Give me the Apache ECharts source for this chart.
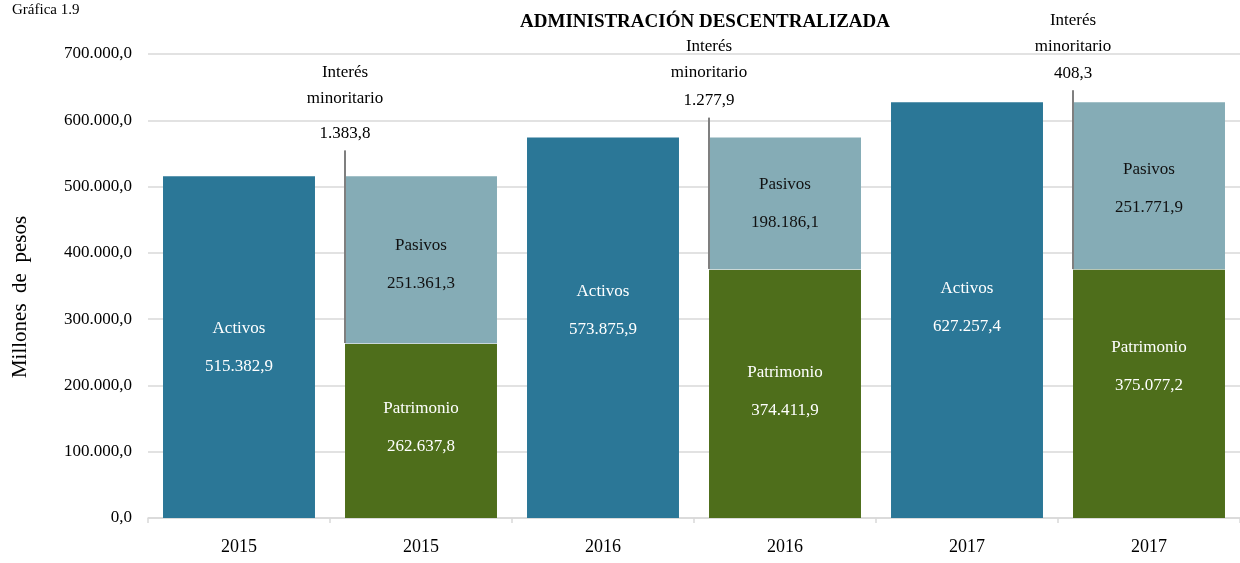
<!DOCTYPE html>
<html>
<head>
<meta charset="utf-8">
<script src="https://cdn.jsdelivr.net/npm/echarts@6/dist/echarts.min.js"></script>
<style>
html,body{margin:0;padding:0;background:#fff;}
#chart{width:1240px;height:563px;}
</style>
</head>
<body>
<div id="chart"></div>
<script>
const categories = ['2015', '2015', '2016', '2016', '2017', '2017'];
const activos    = [515382.9, null, 573875.9, null, 627257.4, null];
const patrimonio = [null, 262637.8, null, 374411.9, null, 375077.2];
const interes    = [null, 1383.8, null, 1277.9, null, 408.3];
const pasivos    = [null, 251361.3, null, 198186.1, null, 251771.9];
const yMin = 0, yMax = 700000, yStep = 100000;

// styling (pixel offsets for callouts / labels)
const calloutGap = { 1: 26, 3: 20, 5: 12 };
const minorGap = { 1: 35, 3: 28, 5: 27 };
const activosShift = { 0: 0, 2: -17, 4: -3 };
const patrimonioShift = { 1: -3, 3: -2, 5: -27 };
const pasivosShift = { 1: 5, 3: 0, 5: 3 };

const FONT = "'Liberation Serif', 'Times New Roman', serif";
const BARW = 0.835;

function fmt(v) {
  const s = v.toFixed(1);
  const [ip, dp] = s.split('.');
  return ip.replace(/\B(?=(\d{3})+(?!\d))/g, '.') + ',' + dp;
}

function barData(arr, shift) {
  return arr.map((v, i) => v == null ? '-' : {
    value: v,
    label: { offset: [0, (shift && shift[i]) || 0] }
  });
}

const calloutData = [];
categories.forEach((c, i) => {
  if (interes[i] != null) {
    const low = patrimonio[i] + interes[i];
    calloutData.push([i, low, low + pasivos[i], interes[i]]);
  }
});

const chart = echarts.init(document.getElementById('chart'), null, { renderer: 'canvas' });

const labelBase = {
  show: true,
  position: 'inside',
  fontFamily: FONT,
  fontSize: 17,
  lineHeight: 38
};

chart.setOption({
  backgroundColor: '#ffffff',
  animation: false,
  title: [
    {
      text: 'ADMINISTRACIÓN DESCENTRALIZADA',
      left: 515, top: 8,
      textStyle: { fontFamily: FONT, fontSize: 19, fontWeight: 'bold', color: '#000' }
    },
    {
      text: 'Gráfica 1.9',
      left: 7, top: -2,
      textStyle: { fontFamily: FONT, fontSize: 15, fontWeight: 'normal', color: '#000' }
    }
  ],
  graphic: [
    {
      type: 'text', x: 20, y: 297, rotation: Math.PI / 2,
      style: { text: 'Millones  de  pesos', align: 'center', verticalAlign: 'middle', fontFamily: FONT, fontSize: 21, fill: '#000' }
    }
  ],
  grid: { left: 148, right: 0, top: 54, bottom: 45, containLabel: false },
  xAxis: {
    type: 'category',
    data: categories,
    boundaryGap: true,
    axisLine: { show: true, lineStyle: { color: '#d9d9d9', width: 1.5 } },
    axisTick: { show: true, length: 5, lineStyle: { color: '#d9d9d9', width: 1.5 } },
    axisLabel: { fontFamily: FONT, fontSize: 18, color: '#000', margin: 20 }
  },
  yAxis: {
    type: 'value',
    min: yMin, max: yMax, interval: yStep,
    axisLine: { show: false },
    axisTick: { show: false },
    splitLine: { show: true, lineStyle: { color: '#d9d9d9', width: 1.5 } },
    axisLabel: { fontFamily: FONT, fontSize: 17, color: '#000', margin: 16, formatter: v => fmt(v) }
  },
  series: [
    {
      name: 'Activos', type: 'bar', stack: 'total', barWidth: (BARW * 100) + '%',
      data: barData(activos, activosShift),
      itemStyle: { color: '#2B7797' },
      label: Object.assign({}, labelBase, { color: '#fff', formatter: p => 'Activos\n' + fmt(p.value) })
    },
    {
      name: 'Patrimonio', type: 'bar', stack: 'total', barWidth: (BARW * 100) + '%',
      data: barData(patrimonio, patrimonioShift),
      itemStyle: { color: '#4E6E1B' },
      label: Object.assign({}, labelBase, { color: '#fff', formatter: p => 'Patrimonio\n' + fmt(p.value) })
    },
    {
      name: 'Interés minoritario', type: 'bar', stack: 'total', barWidth: (BARW * 100) + '%',
      data: barData(interes),
      itemStyle: { color: '#c9d7db' },
      label: { show: false }
    },
    {
      name: 'Pasivos', type: 'bar', stack: 'total', barWidth: (BARW * 100) + '%',
      data: barData(pasivos, pasivosShift),
      itemStyle: { color: '#85ACB6' },
      label: Object.assign({}, labelBase, { color: '#111', formatter: p => 'Pasivos\n' + fmt(p.value) })
    },
    {
      name: 'callout', type: 'custom', z: 10, clip: false,
      data: calloutData,
      renderItem: function (params, api) {
        const ci = api.value(0);
        const base = api.coord([ci, api.value(1)]);
        const top = api.coord([ci, api.value(2)]);
        const band = api.size([1, 0])[0];
        const x = base[0] - band * BARW / 2;
        const lt = top[1] - calloutGap[ci];
        const vy = lt - 17;
        const my = vy - minorGap[ci];
        const iy = my - 26;
        const ts = (t, y) => ({
          type: 'text', x: x, y: y,
          style: { text: t, align: 'center', verticalAlign: 'middle', fontFamily: FONT, fontSize: 17, fill: '#000' }
        });
        return {
          type: 'group',
          children: [
            { type: 'line', shape: { x1: x, y1: lt, x2: x, y2: base[1] }, style: { stroke: '#7f7f7f', lineWidth: 2 } },
            ts(fmt(api.value(3)), vy),
            ts('minoritario', my),
            ts('Interés', iy)
          ]
        };
      }
    }
  ]
});
</script>
</body>
</html>
